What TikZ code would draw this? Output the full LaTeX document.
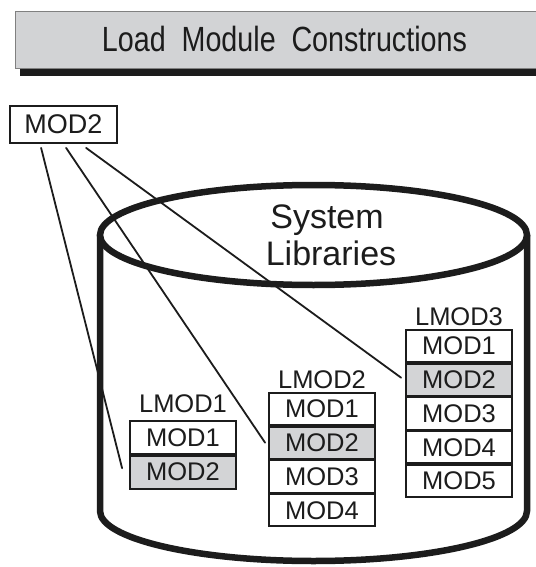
\documentclass[tikz,border=0pt]{standalone}
\usepackage{fontspec}
\setmainfont{Liberation Sans}
\definecolor{bannergray}{RGB}{210,211,213}
\definecolor{hlgray}{RGB}{211,212,214}
\definecolor{ink}{RGB}{28,28,28}
\begin{document}
\begin{tikzpicture}[x=1pt,y=1pt,
  cyl/.style={draw=ink,line width=6.5pt,fill=white},
  conn/.style={draw=ink,line width=1.8pt,line cap=round},
  rowbox/.style={draw=ink,line width=1.8pt,fill=white,minimum width=106pt,minimum height=32pt,inner sep=0pt,anchor=north,font=\fontsize{25.5}{25.5}\selectfont,text=ink},
  hl/.style={fill=hlgray},
  lbl/.style={inner sep=0pt,anchor=base,font=\fontsize{25.5}{25.5}\selectfont,text=ink},
  big/.style={inner sep=0pt,anchor=base,font=\fontsize{34}{34}\selectfont,text=ink}]
\useasboundingbox (0,0) rectangle (535,-567);
\fill[white] (0,0) rectangle (535,-567);
% banner
\fill[ink] (20,-17) rectangle (545,-76);
\draw[fill=bannergray,draw=gray,line width=1pt] (15,-12) rectangle (545,-69);
\node[inner sep=0pt,anchor=base,text=ink] (title) at (284.5,-52)
  {\scalebox{0.82}[1]{\fontsize{35}{35}\selectfont Load\hspace{0.55em}Module\hspace{0.55em}Constructions}};
% cylinder
\draw[cyl] (100,-235) -- (100,-511) arc[start angle=180,end angle=360,x radius=213.5,y radius=50] -- (527,-235);
\draw[cyl] (313.5,-235) ellipse[x radius=213.5,y radius=50];
\node[big] (sys) at (327,-228) {System};
\node[big] (lib) at (331,-265) {Libraries};
% top MOD2
\node[draw=ink,line width=1.8pt,fill=white,minimum width=107pt,minimum height=37pt,inner sep=0pt,
  font=\fontsize{27}{27}\selectfont,text=ink] (top) at (63.5,-124.5) {MOD2};
\coordinate (s1) at ([shift={(32pt,-4pt)}]top.south west);
\coordinate (s2) at ([shift={(57pt,-4pt)}]top.south west);
\coordinate (s3) at ([shift={(77pt,-4pt)}]top.south west);
% LMOD1
\node[rowbox,minimum height=33pt] (l1a) at (183,-420) {MOD1};
\node[rowbox,minimum height=33pt,hl] (l1b) at (l1a.south) {MOD2};
\node[lbl] (lm1) at ([yshift=8pt]l1a.north) {LMOD1};
% LMOD2
\node[rowbox] (l2a) at (322,-392) {MOD1};
\node[rowbox,hl] (l2b) at (l2a.south) {MOD2};
\node[rowbox] (l2c) at (l2b.south) {MOD3};
\node[rowbox] (l2d) at (l2c.south) {MOD4};
\node[lbl] (lm2) at ([yshift=4pt]l2a.north) {LMOD2};
% LMOD3
\node[rowbox] (l3a) at (459,-329) {MOD1};
\node[rowbox,hl] (l3b) at (l3a.south) {MOD2};
\node[rowbox] (l3c) at (l3b.south) {MOD3};
\node[rowbox] (l3d) at (l3c.south) {MOD4};
\node[rowbox] (l3e) at (l3d.south) {MOD5};
\node[lbl] (lm3) at ([yshift=4pt]l3a.north) {LMOD3};
% connectors
\draw[conn] (s1) -- ([xshift=-7pt,yshift=4pt]l1b.west);
\draw[conn] (s2) -- ([xshift=-3pt]l2b.west);
\draw[conn] (s3) -- ([xshift=-4pt,yshift=2pt]l3b.west);
\end{tikzpicture}
\end{document}
